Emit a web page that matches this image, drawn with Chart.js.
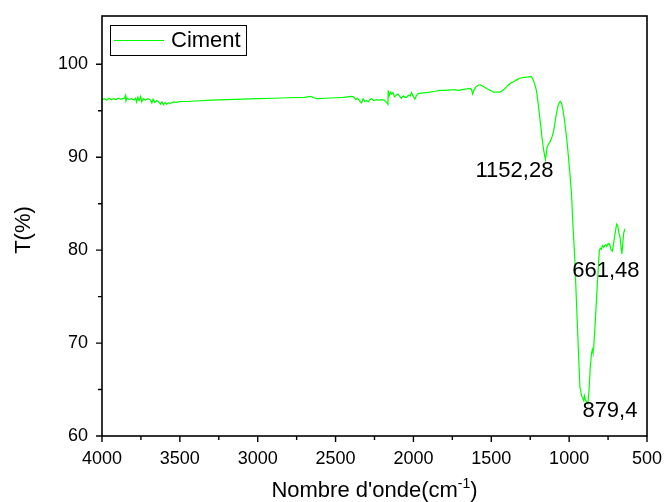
<!DOCTYPE html>
<html>
<head>
<meta charset="utf-8">
<title>Ciment - IR</title>
<script src="https://cdn.jsdelivr.net/npm/chart.js@4.4.1/dist/chart.umd.min.js"></script>
<style>
  html, body { margin: 0; padding: 0; background: #fff; }
  #wrap { width: 665px; height: 502px; }
</style>
</head>
<body>
<div id="wrap"><canvas id="chartCanvas" width="665" height="502"></canvas></div>
<script>
// ---------------- Spectrum data ----------------
const wavenumber = [
  4000, 3985, 3970, 3955, 3940, 3925, 3910, 3895, 3880, 3865, 3855, 3850, 3846, 3838, 3825, 3810,
  3795, 3785, 3778, 3770, 3762, 3752, 3745, 3735, 3720, 3705, 3690, 3680, 3672, 3660, 3648, 3635,
  3625, 3615, 3605, 3595, 3585, 3575, 3560, 3540, 3520, 3500, 3450, 3400, 3300, 3200, 3100, 3000,
  2900, 2800, 2700, 2660, 2640, 2620, 2560, 2500, 2450, 2400, 2385, 2370, 2360, 2345, 2333, 2323,
  2312, 2301, 2290, 2280, 2269, 2255, 2237, 2220, 2200, 2184, 2170, 2164, 2162, 2156, 2148, 2141,
  2132, 2120, 2110, 2098, 2088, 2077, 2065, 2055, 2044, 2030, 2020, 2012, 2000, 1991, 1982, 1970,
  1950, 1920, 1895, 1860, 1831, 1800, 1760, 1730, 1708, 1680, 1655, 1635, 1627, 1620, 1612, 1600,
  1585, 1573, 1560, 1540, 1520, 1500, 1488, 1470, 1446, 1430, 1414, 1395, 1378, 1361, 1340, 1318,
  1290, 1263, 1245, 1235, 1222, 1210, 1200, 1189, 1180, 1172, 1163, 1152.28, 1145, 1141, 1133, 1125,
  1116, 1108, 1099, 1092, 1086, 1078, 1071, 1063, 1056, 1048, 1039, 1030, 1022, 1014, 1007, 997,
  985, 975, 964, 952, 940, 931, 920, 912, 906, 902, 896, 888, 879.4, 872, 864, 856,
  851, 847, 843, 835, 825, 815, 806, 800, 794, 785, 778, 772, 765, 758, 750, 744,
  738, 730, 722, 712, 703, 695, 688, 680, 673, 666, 661.48, 656, 650, 642
];
const transmittance = [
  96.2, 96.3, 96.15, 96.35, 96.2, 96.3, 96.2, 96.35, 96.25, 96.3, 96.4, 96.65, 96.05, 96.35, 96.2, 96.3,
  96.15, 96.35, 95.95, 96.45, 96.1, 96.55, 95.95, 96.3, 96.15, 96.3, 96.2, 95.85, 96.25, 95.9, 96.1, 95.95,
  95.7, 95.95, 95.65, 95.9, 95.7, 95.85, 95.8, 95.95, 95.9, 96.0, 96.0, 96.05, 96.15, 96.2, 96.25, 96.3,
  96.35, 96.4, 96.45, 96.55, 96.4, 96.3, 96.35, 96.4, 96.45, 96.55, 96.5, 96.2, 96.35, 96.05, 95.85, 96.3,
  96.0, 96.1, 95.95, 96.2, 96.3, 96.1, 96.2, 96.15, 96.2, 96.1, 95.85, 95.7, 97.2, 96.6, 97.0, 96.8,
  96.95, 96.5, 96.7, 96.8, 96.55, 96.35, 96.6, 96.45, 96.45, 96.7, 96.6, 96.95, 96.5, 96.25, 96.6, 96.85,
  96.9, 96.95, 97.0, 97.1, 97.2, 97.2, 97.25, 97.25, 97.2, 97.3, 97.35, 97.4, 97.3, 96.8, 97.2, 97.55,
  97.75, 97.8, 97.7, 97.5, 97.3, 97.15, 97.0, 97.0, 97.0, 97.15, 97.35, 97.7, 97.95, 98.1, 98.3, 98.5,
  98.6, 98.65, 98.7, 98.5, 97.9, 97.2, 95.9, 94.3, 93.0, 91.8, 90.7, 89.75, 90.6, 91.1, 91.4, 91.6,
  91.9, 92.3, 92.9, 93.6, 94.3, 95.0, 95.55, 95.9, 96.0, 95.8, 95.0, 94.0, 92.9, 91.7, 90.5, 88.6,
  86.1, 82.5, 79.2, 74.0, 69.0, 65.3, 64.3, 64.1, 63.8, 64.3, 63.9, 63.7, 63.5, 65.0, 67.5, 68.9,
  69.3, 69.0, 69.4, 71.5, 74.5, 77.5, 80.0, 80.2, 80.1, 80.5, 80.3, 80.5, 80.6, 80.4, 80.7, 80.7,
  80.5, 80.0, 79.9, 81.0, 82.0, 82.8, 82.6, 81.8, 81.4, 80.2, 79.6, 80.6, 81.8, 82.3
];

// labelled bands
const peakWavenumber = [1152.28, 879.4, 661.48];
const peakText = ["1152,28", "879,4", "661,48"];

// axis ticks
const xMajor = [4000, 3500, 3000, 2500, 2000, 1500, 1000, 500];
const xMinor = [3750, 3250, 2750, 2250, 1750, 1250, 750];
const yMajor = [60, 70, 80, 90, 100];
const yMinor = [65, 75, 85, 95];

const seriesName = "Ciment";
const lineColor = "#00ff00";
const fontFamily = '"Liberation Sans", Arial, Helvetica, sans-serif';

Chart.defaults.font.family = fontFamily;
Chart.defaults.color = "#000";

// ---------------- Frame, ticks, titles, labels ----------------
const decorations = {
  id: "decorations",
  afterDatasetsDraw(chart) {
    const { ctx, chartArea: a, scales: { x, y } } = chart;
    ctx.save();

    // box around the plot
    ctx.strokeStyle = "#000";
    ctx.lineWidth = 1.6;
    ctx.strokeRect(a.left, a.top, a.right - a.left, a.bottom - a.top);

    // outward tick marks
    ctx.beginPath();
    xMajor.forEach((v) => { const p = x.getPixelForValue(v); ctx.moveTo(p, a.bottom); ctx.lineTo(p, a.bottom + 6); });
    xMinor.forEach((v) => { const p = x.getPixelForValue(v); ctx.moveTo(p, a.bottom); ctx.lineTo(p, a.bottom + 4); });
    yMajor.forEach((v) => { const p = y.getPixelForValue(v); ctx.moveTo(a.left, p); ctx.lineTo(a.left - 6, p); });
    yMinor.forEach((v) => { const p = y.getPixelForValue(v); ctx.moveTo(a.left, p); ctx.lineTo(a.left - 4, p); });
    ctx.lineWidth = 1.4;
    ctx.stroke();

    ctx.fillStyle = "#000";

    // band labels
    const offsets = [[-31, 11], [22, 7], [-16, 17]];
    ctx.font = "22px " + fontFamily;
    ctx.textAlign = "center";
    ctx.textBaseline = "middle";
    peakWavenumber.forEach((w, i) => {
      const idx = wavenumber.indexOf(w);
      const px = x.getPixelForValue(w);
      const py = y.getPixelForValue(transmittance[idx]);
      ctx.fillText(peakText[i], px + offsets[i][0], py + offsets[i][1]);
    });

    // y title
    ctx.save();
    ctx.translate(24, (a.top + a.bottom) / 2 + 4);
    ctx.rotate(-Math.PI / 2);
    ctx.textAlign = "center";
    ctx.textBaseline = "middle";
    ctx.fillText("T(%)", 0, 0);
    ctx.restore();

    // x title with superscript
    const main = "Nombre d'onde(cm";
    const sup = "-1";
    const close = ")";
    ctx.textAlign = "left";
    ctx.textBaseline = "alphabetic";
    ctx.font = "22px " + fontFamily;
    const wMain = ctx.measureText(main).width;
    const wClose = ctx.measureText(close).width;
    ctx.font = "14px " + fontFamily;
    const wSup = ctx.measureText(sup).width;
    const total = wMain + wSup + wClose;
    let tx = (a.left + a.right) / 2 - total / 2;
    const base = 497;
    ctx.font = "22px " + fontFamily;
    ctx.fillText(main, tx, base);
    tx += wMain;
    ctx.font = "14px " + fontFamily;
    ctx.fillText(sup, tx, base - 9);
    tx += wSup;
    ctx.font = "22px " + fontFamily;
    ctx.fillText(close, tx, base);

    // legend
    ctx.lineWidth = 1;
    ctx.strokeStyle = "#000";
    ctx.strokeRect(110.5, 25.5, 136, 30);
    ctx.beginPath();
    ctx.moveTo(114, 40.5);
    ctx.lineTo(164, 40.5);
    ctx.strokeStyle = lineColor;
    ctx.lineWidth = 1.2;
    ctx.stroke();
    ctx.textBaseline = "middle";
    ctx.fillText(seriesName, 171, 41);

    ctx.restore();
  },
};

// keep the plot box fixed: no extra room for overhanging tick labels
function fixBox(size) {
  return (s) => {
    if (s.isHorizontal()) s.height = size;
    else s.width = size;
    s.paddingTop = 0;
    s.paddingBottom = 0;
    s.paddingLeft = 0;
    s.paddingRight = 0;
  };
}

// ---------------- Chart ----------------
const ctx = document.getElementById("chartCanvas").getContext("2d");

new Chart(ctx, {
  type: "scatter",
  data: {
    datasets: [
      {
        label: seriesName,
        data: wavenumber.map((w, i) => ({ x: w, y: transmittance[i] })),
        showLine: true,
        borderColor: lineColor,
        backgroundColor: lineColor,
        borderWidth: 1.2,
        pointRadius: 0,
        tension: 0,
      },
    ],
  },
  options: {
    responsive: false,
    animation: false,
    devicePixelRatio: 1,
    layout: { padding: { top: 16, right: 18, left: 0, bottom: 0 } },
    plugins: { legend: { display: false }, tooltip: { enabled: false } },
    scales: {
      x: {
        type: "linear",
        reverse: true,
        min: 500,
        max: 4000,
        grid: { display: false, drawTicks: false },
        border: { display: false },
        ticks: { font: { size: 18 }, padding: 12, maxRotation: 0, color: "#000", callback: (v) => String(v) },
        afterBuildTicks: (s) => { s.ticks = xMajor.map((v) => ({ value: v })); },
        afterFit: fixBox(66),
      },
      y: {
        type: "linear",
        min: 60,
        max: 105.2,
        grid: { display: false, drawTicks: false },
        border: { display: false },
        ticks: { font: { size: 18 }, padding: 14, color: "#000", callback: (v) => String(v) },
        afterBuildTicks: (s) => { s.ticks = yMajor.map((v) => ({ value: v })); },
        afterFit: fixBox(102),
      },
    },
  },
  plugins: [decorations],
});
</script>
</body>
</html>
